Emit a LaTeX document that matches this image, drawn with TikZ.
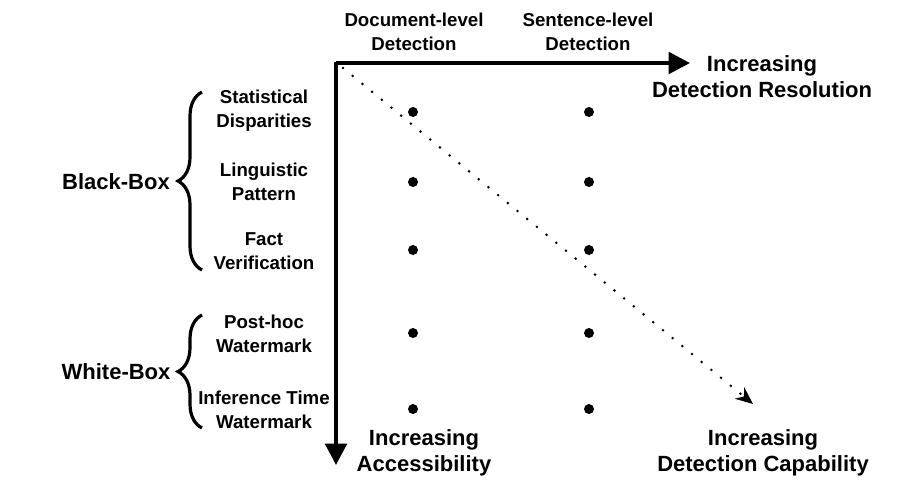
\documentclass[tikz,border=0pt]{standalone}
\usepackage{fontspec}
\setmainfont{Liberation Sans}
\usetikzlibrary{arrows.meta, decorations.pathreplacing}

\begin{document}
\begin{tikzpicture}[x=0.75pt, y=-0.75pt, black, font=\bfseries,
    small/.style={align=center, font=\fontsize{14}{18}\selectfont\bfseries},
    big/.style={align=center, font=\fontsize{16.5}{19.5}\selectfont\bfseries},
    axis/.style={line width=3pt, -{Triangle[length=16pt, width=16pt]}},
    bracket/.style={line width=2.4pt, decorate, decoration={brace, amplitude=18pt}},
    pt/.style={circle, fill, inner sep=0pt, minimum size=7.5pt}]
    \useasboundingbox (0,0) rectangle (906,480);

    % Axes
    \coordinate (origin) at (336,63);
    \coordinate (xend) at (690,63);
    \coordinate (yend) at (336,465);
    \draw[axis] (origin) -- (xend);
    \draw[axis] (origin) ++(0,-1.5) coordinate (ytop) (ytop) -- (yend);

    % Diagonal
    \coordinate (dstart) at (343,68);
    \coordinate (dend) at (753,404);
    \draw[line width=2.2pt, dash pattern=on 0pt off 9.4pt, line cap=round,
        -{Stealth[length=13pt, width=11pt]}] (dstart) -- (dend);

    % Column headers
    \node[small] (doc) at (414,32) {Document-level\\Detection};
    \node[small] (sent) at (588,32) {Sentence-level\\Detection};

    % Axis labels
    \node[big] (resol) at (762,77) {Increasing\\Detection Resolution};
    \node[big] (access) at (424,453) {Increasing\\Accessibility};
    \node[big] (capab) at (763,453) {Increasing\\Detection Capability};

    % Rows
    \node[small] (stat) at (264,111) {Statistical\\Disparities};
    \node[small] (ling) at (264,182) {Linguistic\\Pattern};
    \node[small] (fact) at (264,251) {Fact\\Verification};
    \node[small] (post) at (264,334) {Post-hoc\\Watermark};
    \node[small] (infer) at (264,410) {Inference Time\\Watermark};

    % Points
    \foreach \y [count=\i] in {112,182,250,333,409} {
        \node[pt] (doc-\i) at (413,\y) {};
        \node[pt] (sent-\i) at (589,\y) {};
    }

    % Groups
    \draw[bracket] (202,270) -- (202,92);
    \node[big] (black) at (116,182) {Black-Box};
    \draw[bracket] (202,428) -- (202,315);
    \node[big] (white) at (116,372) {White-Box};
\end{tikzpicture}
\end{document}
